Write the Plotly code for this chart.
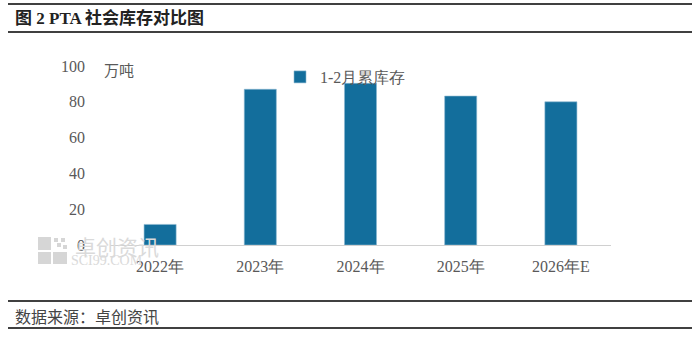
import plotly.graph_objects as go

categories = ["2022年", "2023年", "2024年", "2025年", "2026年E"]
stock_values = [11.5, 87, 90.3, 83.2, 80]
series_name = "1-2月累库存"
y_ticks = [0, 20, 40, 60, 80, 100]

W, H = 700, 339
L, R, T, B = 110, 611, 66, 245  # plot area in pixels

def px_x(x):
    return (x - L) / (R - L)

def px_y(y):
    return (B - y) / (B - T)

CJK = "Noto Sans CJK SC"
NUM = "Liberation Serif"
GRAY = "#595959"

fig = go.Figure()
fig.add_trace(go.Bar(
    x=categories, y=stock_values, name=series_name,
    marker=dict(color="#136E9C", line=dict(color="#8db8d2", width=0.6)),
    width=0.32, showlegend=True,
))

fig.update_layout(
    width=W, height=H,
    margin=dict(l=L, r=W - R, t=T, b=H - B, pad=0),
    paper_bgcolor="white", plot_bgcolor="white",
    xaxis=dict(showgrid=False, showline=True, linecolor="#d0d0d0", linewidth=1,
               ticks="", tickfont=dict(family=NUM, size=16, color=GRAY),
               ticklabelstandoff=7, range=[-0.5, 4.5]),
    yaxis=dict(range=[0, 100], tickvals=y_ticks, showgrid=False, showline=False,
               zeroline=False, ticks="", ticklabelstandoff=24,
               tickfont=dict(family=NUM, size=16, color=GRAY)),
    legend=dict(orientation="h", x=px_x(280), y=px_y(60), xanchor="left", yanchor="top",
                font=dict(family=NUM, size=16, color=GRAY), itemwidth=30,
                bgcolor="rgba(0,0,0,0)"),
    showlegend=True,
)

shapes = []
for yy in [4, 32, 301, 328]:
    shapes.append(dict(type="line", xref="paper", yref="paper",
                       x0=px_x(8), x1=px_x(692), y0=px_y(yy), y1=px_y(yy),
                       line=dict(color="black", width=1.5)))
# watermark logo blocks
for (x0, y0, x1, y1) in [(38, 237, 51, 250), (38, 252, 51, 264), (53, 252, 67, 264),
                         (54, 238, 58, 242), (61, 238, 65, 242), (57, 243, 61, 247),
                         (63, 245, 67, 249)]:
    shapes.append(dict(type="rect", xref="paper", yref="paper",
                       x0=px_x(x0), x1=px_x(x1), y0=px_y(y1), y1=px_y(y0),
                       fillcolor="#d6d6d6", line=dict(width=0), layer="below"))
fig.update_layout(shapes=shapes)

ann = [
    dict(text="<b>图 2 PTA 社会库存对比图</b>", x=px_x(13), y=px_y(18), xanchor="left",
         yanchor="middle", font=dict(family="Liberation Serif, " + CJK, size=17, color="#222222")),
    dict(text="万吨", x=px_x(102), y=px_y(69), xanchor="left", yanchor="middle",
         font=dict(family=CJK, size=15, color=GRAY)),
    dict(text="数据来源：卓创资讯", x=px_x(13), y=px_y(316), xanchor="left", yanchor="middle",
         font=dict(family=CJK, size=16, color="#444444")),
    dict(text="卓创资讯", x=px_x(73), y=px_y(246), xanchor="left", yanchor="middle",
         font=dict(family=CJK, size=21, color="#dadada")),
    dict(text="SCI99.COM", x=px_x(69), y=px_y(260), xanchor="left", yanchor="middle",
         font=dict(family="Liberation Serif", size=14, color="#dadada")),
]
for a in ann:
    a.update(xref="paper", yref="paper", showarrow=False)
fig.update_layout(annotations=ann)

fig.write_html("out.html")
